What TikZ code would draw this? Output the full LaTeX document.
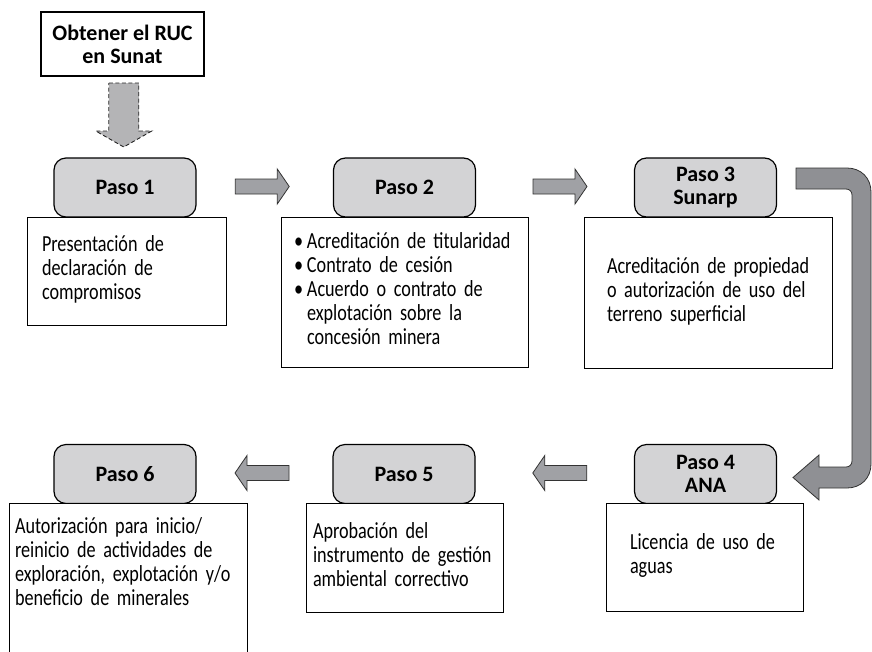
\documentclass[tikz,border=0pt]{standalone}
\usepackage{fontspec}
\setmainfont{Carlito}
\newfontfamily\descfont{Carlito}[FakeStretch=0.79,WordSpace=0.8]
\usetikzlibrary{calc}
\definecolor{pasogray}{RGB}{211,211,213}
\definecolor{arrowgray}{RGB}{160,161,165}
\definecolor{bigarrowgray}{RGB}{143,144,148}
\definecolor{dashgray}{RGB}{180,180,182}
\tikzset{pasobox/.style={draw, line width=1.2pt, fill=pasogray, rounded corners=12pt,
   minimum width=142pt, minimum height=59pt, inner sep=0pt, align=center,
   font=\fontsize{22}{23}\selectfont\bfseries},
 rucbox/.style={draw, line width=1.2pt, minimum width=163pt, minimum height=64pt,
   inner sep=0pt, align=center, font=\fontsize{22}{23}\selectfont\bfseries},
 descbox/.style={draw, line width=1pt, fill=white, inner sep=0pt, align=left,
   font=\descfont\fontsize{23}{24}\selectfont},
 smallarrow/.style={draw=black!80, line width=0.8pt, fill=arrowgray},
 bigarrow/.style={draw=black!80, line width=0.8pt, fill=bigarrowgray},
 dasharrow/.style={draw=black!85, line width=0.9pt, dash pattern=on 4pt off 2.5pt, fill=dashgray},
 pics/flecha/.style={code={\draw[smallarrow] (-27,-7.5) -- (15,-7.5) -- (15,-17.5) -- (27,0)
   -- (15,17.5) -- (15,7.5) -- (-27,7.5) -- cycle;}},
 pics/flecharuc/.style={code={\draw[dasharrow] (-15,-32) -- (15,-32) -- (15,16) -- (28,16)
   -- (0,32) -- (-28,16) -- (-15,16) -- cycle;}},
 }
\newcommand{\lineas}[1]{\noindent\begin{tabular}[t]{@{}l@{}}#1\end{tabular}}
\newcommand{\itm}{\makebox[13pt][l]{•}}
\newcommand{\sinitm}{\hspace*{13pt}}

\begin{document}
\begin{tikzpicture}[x=1pt,y=-1pt]
        \useasboundingbox (0,0) rectangle (872,651);
        % pasos
        \node[rucbox] (ruc) at (122.5,44) {Obtener el RUC\\en Sunat};
        \node[pasobox] (p1) at (125,187.5) {Paso 1};
        \node[pasobox] (p2) at (404.5,187.5) {Paso 2};
        \node[pasobox] (p3) at (705.5,187.5) {Paso 3\\Sunarp};
        \node[pasobox] (p4) at (705.5,474) {Paso 4\\ANA};
        \node[pasobox] (p5) at (404,474) {Paso 5};
        \node[pasobox] (p6) at (125,474) {Paso 6};
        % descripciones
        \node[descbox, minimum width=199pt, minimum height=108pt, text width=169pt] (d1) at (126.5,271)
            {\lineas{Presentación de\\declaración de\\compromisos}};
        \node[descbox, minimum width=247pt, minimum height=150pt, text width=221pt] (d2) at (404.5,292)
            {\lineas{\itm Acreditación de titularidad\\\itm Contrato de cesión\\\itm Acuerdo o contrato de\\
             \sinitm explotación sobre la\\\sinitm concesión minera}};
        \node[descbox, minimum width=248pt, minimum height=151pt, text width=202pt] (d3) at (708,292.5)
            {\lineas{Acreditación de propiedad\\o autorización de uso del\\terreno superficial}};
        \node[descbox, minimum width=197pt, minimum height=108pt, text width=149pt] (d4) at (704.5,557)
            {\lineas{Licencia de uso de\\aguas}};
        \node[descbox, minimum width=197pt, minimum height=109pt, text width=183pt] (d5) at (404.5,557.5)
            {\lineas{Aprobación del\\instrumento de gestión\\ambiental correctivo}};
        \node[descbox, minimum width=238pt, text width=226pt, text height=30pt, text depth=150pt,
            anchor=north] (d6) at (128,503)
            {\lineas{Autorización para inicio/\\reinicio de actividades de\\exploración, explotación y/o\\beneficio de minerales}};
        % flechas
        \pic at ($(ruc.south)!0.5!(p1.north)+(0,-2)$) {flecharuc};
        \pic at ($(p1.east)!0.5!(p2.west)+(-2.5,-1)$) {flecha};
        \pic at ($(p2.east)!0.5!(p3.west)+(5,-1)$) {flecha};
        \pic[rotate=180] at ($(p4.west)!0.5!(p5.east)+(5,-1)$) {flecha};
        \pic[rotate=180] at ($(p5.west)!0.5!(p6.east)+(-2.5,-1)$) {flecha};
        \draw[bigarrow] (796,168) -- (847,168) .. controls (861,168) and (871,178) .. (871,192)
            -- (871,464) .. controls (871,478) and (861,488) .. (847,488) -- (819,488) -- (819,500)
            -- (793,477.5) -- (819,455) -- (819,467) -- (846,467)
            .. controls (849.5,467) and (852,464.5) .. (852,461) -- (852,195)
            .. controls (852,191.5) and (849.5,189) .. (846,189) -- (796,189) -- cycle;
    \end{tikzpicture}
\end{document}
